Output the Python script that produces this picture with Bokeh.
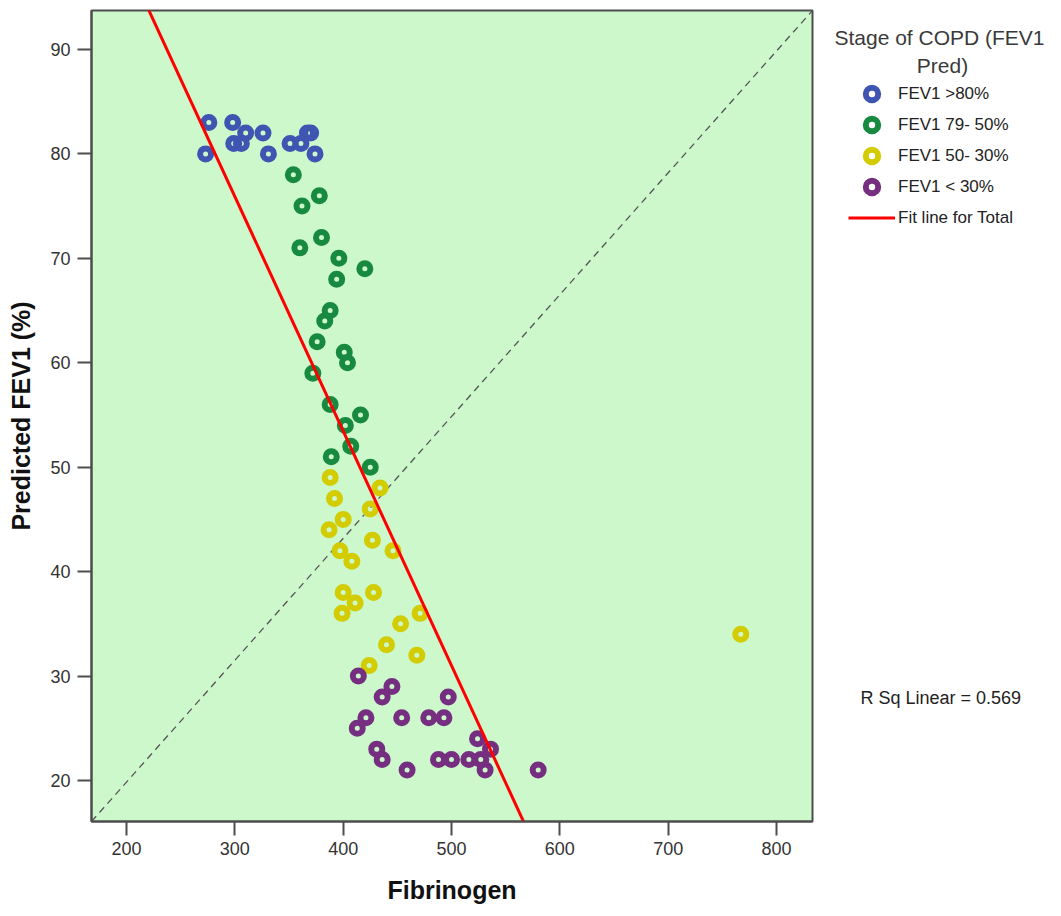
from bokeh.plotting import figure
from bokeh.layouts import row
from bokeh.models import Range1d, FixedTicker, Legend, LegendItem, Label
from bokeh.embed import file_html
from bokeh.resources import INLINE
import numpy as np

# Fibrinogen vs predicted FEV1 (%), one group per COPD stage
stage_names = ["FEV1 >80%", "FEV1 79- 50%", "FEV1 50- 30%", "FEV1 < 30%"]
stage_colors = ["#3F55B2", "#178A3F", "#D2CC00", "#762F80"]

fib_stage1 = [276, 298, 273, 299, 306, 310, 326, 331, 351, 361, 367, 370, 374]
fev_stage1 = [83, 83, 80, 81, 81, 82, 82, 80, 81, 81, 82, 82, 80]

fib_stage2 = [354, 378, 362, 380, 360, 396, 420, 394, 388, 383,
              376, 401, 404, 372, 388, 416, 402, 407, 389, 425]
fev_stage2 = [78, 76, 75, 72, 71, 70, 69, 68, 65, 64,
              62, 61, 60, 59, 56, 55, 54, 52, 51, 50]

fib_stage3 = [388, 434, 392, 425, 400, 387, 427, 446, 397, 408,
              400, 428, 411, 399, 471, 453, 440, 468, 424, 767]
fev_stage3 = [49, 48, 47, 46, 45, 44, 43, 42, 42, 41,
              38, 38, 37, 36, 36, 35, 33, 32, 31, 34]

fib_stage4 = [414, 445, 436, 497, 421, 454, 479, 493, 413, 524,
              536, 431, 436, 488, 500, 516, 527, 459, 531, 580]
fev_stage4 = [30, 29, 28, 28, 26, 26, 26, 26, 25, 24,
              23, 23, 22, 22, 22, 22, 22, 21, 21, 21]

# linear fit for all patients
fit_intercept = 143.3
fit_slope = -0.2246
r_sq = 0.569

x_ticks = [200, 300, 400, 500, 600, 700, 800]
y_ticks = [20, 30, 40, 50, 60, 70, 80, 90]
x_lo, x_hi = 167.7, 833.2
y_lo, y_hi = 16.07, 93.73

FONT = "Liberation Sans"
EDGE = "#4D4D4D"
MARKER = dict(marker="circle", fill_alpha=0, line_width=6)

# ---- scatter panel ----
p = figure(width=814, height=916, output_backend="svg", toolbar_location=None,
           x_range=Range1d(x_lo, x_hi), y_range=Range1d(y_lo, y_hi),
           min_border_left=91, min_border_right=2, min_border_top=10,
           min_border_bottom=95)

p.background_fill_color = "#CCF8CC"
p.border_fill_color = "white"
p.outline_line_color = EDGE
p.outline_line_width = 2
p.grid.visible = False

for ax in (p.xaxis[0], p.yaxis[0]):
    ax.axis_line_color = EDGE
    ax.axis_line_width = 2
    ax.major_tick_line_color = EDGE
    ax.major_tick_line_width = 2
    ax.major_tick_out = 14
    ax.major_tick_in = 0
    ax.minor_tick_line_color = None
    ax.major_label_text_font = FONT
    ax.major_label_text_font_size = "18px"
    ax.major_label_text_color = "#333333"
    ax.axis_label_text_font = FONT
    ax.axis_label_text_font_style = "bold"
    ax.axis_label_text_font_size = "25px"
    ax.axis_label_text_color = "#111111"

p.xaxis.ticker = FixedTicker(ticks=x_ticks)
p.yaxis.ticker = FixedTicker(ticks=y_ticks)
p.xaxis.major_label_standoff = 6
p.yaxis.major_label_standoff = 7
p.xaxis.axis_label = "Fibrinogen"
p.yaxis.axis_label = "Predicted FEV1 (%)"
p.xaxis.axis_label_standoff = 18
p.yaxis.axis_label_standoff = 12

# diagonal reference line across the frame
p.line([x_lo, x_hi], [y_lo, y_hi], line_color="#555555", line_width=1.3,
       line_dash="7 5")

groups = [(fib_stage1, fev_stage1), (fib_stage2, fev_stage2),
          (fib_stage3, fev_stage3), (fib_stage4, fev_stage4)]
for (xs, ys), color in zip(groups, stage_colors):
    p.scatter(xs, ys, size=11, line_color=color, **MARKER)

fit_x = np.array([x_lo, x_hi])
fit_y = fit_intercept + fit_slope * fit_x
p.line(fit_x, fit_y, line_color="#FF0000", line_width=3)

# ---- legend / annotation panel (its frame lines up with the scatter frame) ----
side = figure(width=247, height=916, output_backend="svg", toolbar_location=None,
              x_range=Range1d(0, 1), y_range=Range1d(0, 1),
              x_axis_type=None, y_axis_type=None,
              min_border=0, outline_line_color=None)
side.grid.visible = False
side.background_fill_color = "white"
side.border_fill_color = "white"

# key swatches: one undrawn (NaN) row each, so the legend has a style to use
blank = np.array([np.nan])
key_renderers = [side.scatter(blank, blank, size=14, line_color=c, **MARKER)
                 for c in stage_colors]
key_fit = side.line(np.array([np.nan, np.nan]), np.array([np.nan, np.nan]),
                    line_color="#FF0000", line_width=3)

items = [LegendItem(label=name, renderers=[r])
         for name, r in zip(stage_names, key_renderers)]
items.append(LegendItem(label="Fit line for Total", renderers=[key_fit]))
legend = Legend(items=items, location=(34, 588), padding=0, margin=0,
                border_line_color=None, background_fill_alpha=0,
                glyph_width=47, glyph_height=31, label_height=31,
                spacing=0, label_standoff=3,
                label_text_font=FONT, label_text_font_size="17px",
                label_text_color="#222222")
side.add_layout(legend, "center")

title_style = dict(x_units="screen", y_units="screen", text_font=FONT,
                   text_font_size="21px", text_color="#3A3A3A",
                   text_align="center", text_baseline="middle")
side.add_layout(Label(x=125, y=784, text="Stage of COPD (FEV1", **title_style))
side.add_layout(Label(x=128, y=756, text="Pred)", **title_style))

side.add_layout(Label(x=46, y=124, x_units="screen", y_units="screen",
                      text=f"R Sq Linear = {r_sq:.3f}", text_font=FONT,
                      text_font_size="18px", text_color="#222222",
                      text_baseline="middle"))

layout = row(p, side, spacing=0)
open("out.html", "w").write(file_html(layout, INLINE))
